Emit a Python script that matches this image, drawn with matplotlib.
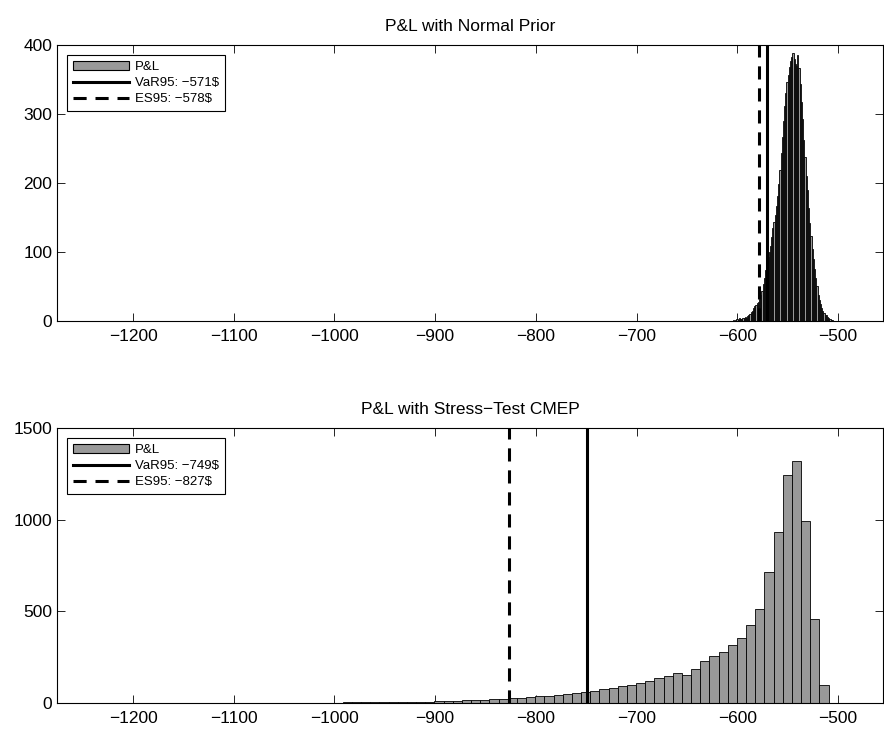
import numpy as np
import matplotlib
matplotlib.use("Agg")
from matplotlib import pyplot as plt
from matplotlib.patches import Patch
from matplotlib.lines import Line2D

plt.rcParams['font.family'] = ['Liberation Sans', 'DejaVu Sans']

# histogram of P&L under the normal prior (84 bins)
prior_start = -604.5
prior_width = 1.185
prior_counts = [1, 0, 2, 3, 2, 4, 3, 3, 5, 4, 6, 5, 7, 9, 10, 13, 15, 19, 21, 23,
                26, 28, 32, 37, 44, 54, 63, 74, 84, 92,
                100, 108, 121, 135, 143, 154, 166, 181, 199, 219,
                243, 266, 290, 312, 331, 346, 357, 368, 377, 383,
                389, 380, 372, 369, 386, 366, 343, 318, 292, 262,
                238, 210, 190, 164, 142, 123, 105, 90, 76, 62,
                50, 38, 30, 25, 19, 14, 12, 9, 8, 6, 5, 3, 2, 1]

# histogram of P&L under the stress-test CMEP (84 bins)
stress_start = -1273.8
stress_width = 9.1
stress_counts = [1, 0, 0, 0, 0, 0, 0, 0, 0, 0, 0, 0, 0, 0, 0, 1, 1, 0, 0, 1,
                 1, 1, 1, 1, 0, 1, 1, 2, 1, 2,
                 2, 3, 3, 3, 4, 4, 5, 6, 6, 7,
                 8, 10, 11, 12, 14, 16, 18, 20, 23, 26,
                 29, 32, 36, 40, 45, 50, 55, 62, 68, 75,
                 82, 90, 100, 108, 120, 135, 147, 161, 153, 184,
                 229, 256, 277, 316, 357, 425, 512, 714, 933, 1244,
                 1320, 993, 460, 100]

titles = ["P&L with Normal Prior", "P&L with Stress\u2212Test CMEP"]
var95 = [-571, -749]
es95 = [-578, -827]
ylims = [400, 1500]
yticks = [[0, 100, 200, 300, 400], [0, 500, 1000, 1500]]
xticks = [-1200, -1100, -1000, -900, -800, -700, -600, -500]

fig = plt.figure(figsize=(8.84, 7.29), dpi=100)
positions = [[0.0645, 0.5597, 0.9344, 0.3786], [0.0645, 0.0357, 0.9344, 0.3772]]

data = [(prior_start, prior_width, prior_counts), (stress_start, stress_width, stress_counts)]
dash = (0, (4.3, 2.9))

for k in range(2):
    ax = fig.add_axes(positions[k])
    start, width, counts = data[k]
    centers = start + width * (np.arange(len(counts)) + 0.5)
    ax.bar(centers, counts, width=width, color='#999999', edgecolor='black',
           linewidth=0.6, zorder=2)
    ax.axvline(var95[k], color='black', linewidth=2.2, zorder=3)
    ax.axvline(es95[k], color='black', linewidth=2.2, linestyle=dash, zorder=3)

    ax.set_xlim(-1275.5, -455.3)
    ax.set_ylim(0, ylims[k])
    ax.set_xticks(xticks)
    ax.set_yticks(yticks[k])
    ax.tick_params(direction='in', length=5.8, width=0.6, top=True, right=True,
                   labelsize=12.5)
    ax.tick_params(axis='x', pad=6)
    ax.tick_params(axis='y', pad=3.5)
    for s in ax.spines.values():
        s.set_linewidth(0.8)
    ax.set_title(titles[k], fontsize=12.5, pad=10)

    handles = [Patch(facecolor='#999999', edgecolor='black', linewidth=0.8),
               Line2D([], [], color='black', linewidth=2.2),
               Line2D([], [], color='black', linewidth=2.2, linestyle=dash)]
    labels = ["P&L", "VaR95: \u2212%d\\$" % abs(var95[k]), "ES95: \u2212%d\\$" % abs(es95[k])]
    leg = ax.legend(handles, labels, loc='upper left', fontsize=9.5, frameon=True,
                    fancybox=False, framealpha=1, edgecolor='black',
                    handlelength=4.25, handletextpad=0.45, borderpad=0.45,
                    labelspacing=0.3, borderaxespad=0.75)
    leg.get_frame().set_linewidth(0.8)

fig.savefig("out.png", dpi=100)
